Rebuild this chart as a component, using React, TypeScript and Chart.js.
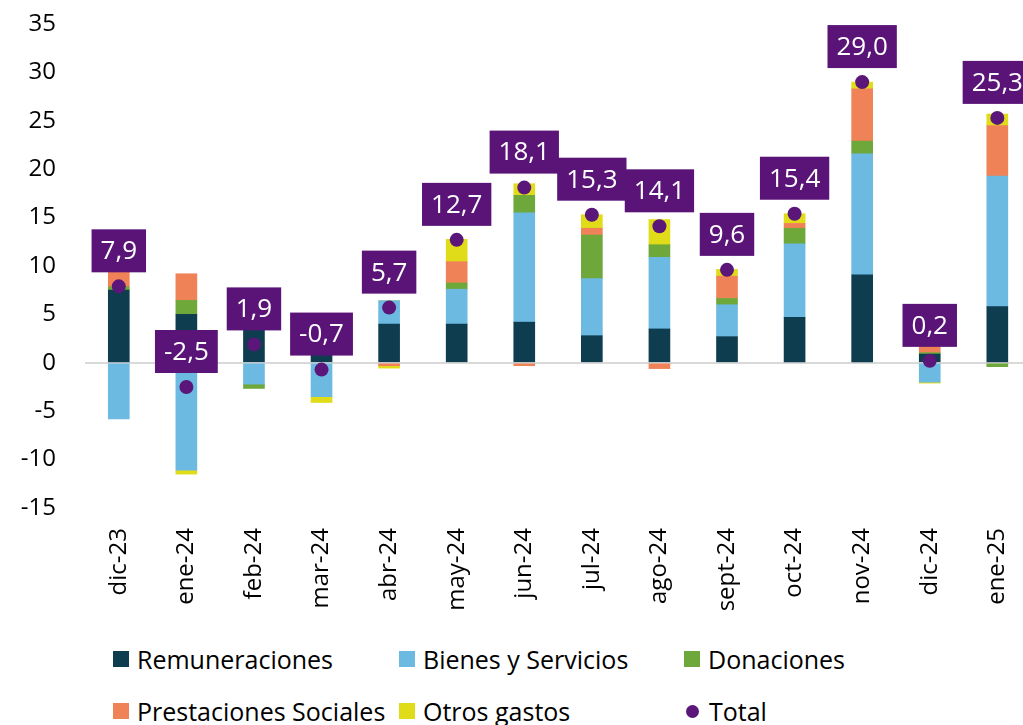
import React, { useEffect, useRef } from 'react';
import { Chart, registerables } from 'chart.js';

Chart.register(...registerables);

const categories = ['dic-23', 'ene-24', 'feb-24', 'mar-24', 'abr-24', 'may-24', 'jun-24', 'jul-24', 'ago-24', 'sept-24', 'oct-24', 'nov-24', 'dic-24', 'ene-25'];

const remuneraciones = [7.5, 5.0, 3.6, 1.0, 4.0, 4.0, 4.2, 2.8, 3.5, 2.7, 4.7, 9.1, 0.9, 5.8];
const bienesServicios = [-5.8, -11.1, -2.2, -3.5, 2.4, 3.6, 11.3, 5.9, 7.4, 3.3, 7.6, 12.5, -2.0, 13.5];
const donaciones = [0.35, 1.45, -0.45, 0, 0, 0.65, 1.8, 4.5, 1.3, 0.65, 1.6, 1.3, 0.15, -0.4];
const prestaciones = [1.8, 2.75, 0, 0, -0.3, 2.2, -0.3, 0.7, -0.6, 2.3, 0.5, 5.4, 0.7, 5.2];
const otrosGastos = [0, -0.4, 0, -0.6, -0.25, 2.3, 1.2, 1.4, 2.6, 0.7, 1.0, 0.7, -0.1, 1.2];
const total = [7.9, -2.5, 1.9, -0.7, 5.7, 12.7, 18.1, 15.3, 14.1, 9.6, 15.4, 29.0, 0.2, 25.3];

const yMin = -15;
const yMax = 35;
const yStep = 5;

const seriesNames = ['Remuneraciones', 'Bienes y Servicios', 'Donaciones', 'Prestaciones Sociales', 'Otros gastos', 'Total'];
const seriesColors = ['#0F3D50', '#6CB9E2', '#6FA83A', '#F08258', '#E0DC1A', '#5A1678'];
const labelBoxColor = '#5A1478';

const FONT = "'Open Sans', sans-serif";

const toXY = (arr: number[]) => arr.map((y, i) => ({ x: i, y }));

const totalLabels = {
  id: 'totalLabels',
  afterDatasetsDraw(chart: any) {
    const idx = chart.data.datasets.findIndex((d: any) => d.label === 'Total');
    const meta = chart.getDatasetMeta(idx);
    const ctx = chart.ctx;
    ctx.save();
    ctx.font = `26px ${FONT}`;
    ctx.textAlign = 'center';
    ctx.textBaseline = 'middle';
    meta.data.forEach((pt: any, i: number) => {
      const text = total[i].toFixed(1).replace('.', ',');
      const w = ctx.measureText(text).width + 18;
      const h = 43;
      const bx = pt.x - w / 2;
      const by = pt.y - 14 - h;
      ctx.fillStyle = labelBoxColor;
      ctx.fillRect(bx, by, w, h);
      ctx.fillStyle = '#FFFFFF';
      ctx.fillText(text, pt.x, by + h / 2 + 1);
    });
    ctx.restore();
  },
};

export default function App() {
  const canvasRef = useRef<HTMLCanvasElement | null>(null);

  useEffect(() => {
    const canvas = canvasRef.current;
    if (!canvas) return;
    const barSeries = [remuneraciones, bienesServicios, donaciones, prestaciones, otrosGastos];
    const datasets: any[] = barSeries.map((arr, i) => ({
      type: 'bar',
      label: seriesNames[i],
      data: toXY(arr),
      backgroundColor: seriesColors[i],
      borderWidth: 0,
      barThickness: 21,
      order: 1,
    }));
    datasets.push({
      type: 'line',
      label: 'Total',
      data: toXY(total),
      showLine: false,
      pointRadius: 7,
      pointHoverRadius: 7,
      pointBackgroundColor: seriesColors[5],
      pointBorderWidth: 0,
      borderColor: seriesColors[5],
      backgroundColor: seriesColors[5],
      stack: 'total',
      clip: false,
      order: 0,
    });

    const chart = new Chart(canvas, {
      type: 'bar',
      data: { datasets },
      plugins: [totalLabels],
      options: {
        animation: false,
        responsive: false,
        maintainAspectRatio: false,
        layout: { autoPadding: false, padding: { top: 24, left: 0, right: 0, bottom: 0 } },
        plugins: {
          legend: { display: false },
          tooltip: { enabled: false },
        },
        scales: {
          x: {
            type: 'linear',
            min: -0.5,
            max: 13.38,
            offset: false,
            stacked: true,
            grid: { display: false, drawTicks: false, offset: false },
            border: { display: false },
            afterBuildTicks: (scale: any) => {
              scale.ticks = categories.map((_, i) => ({ value: i }));
            },
            afterFit: (scale: any) => {
              scale.height = 112;
              scale.paddingLeft = 0;
              scale.paddingRight = 0;
            },
            ticks: {
              autoSkip: false,
              maxRotation: 90,
              minRotation: 90,
              padding: 20,
              color: '#000',
              font: { family: FONT, size: 24 },
              callback: (v: any) => categories[v] ?? '',
            },
          },
          y: {
            stacked: true,
            min: yMin,
            max: yMax,
            grid: {
              drawTicks: false,
              lineWidth: 2,
              color: (c: any) => (c.tick && c.tick.value === 0 ? '#D9D9D9' : 'rgba(0,0,0,0)'),
            },
            border: { display: false },
            afterFit: (scale: any) => {
              scale.width = 85;
              scale.paddingTop = 0;
              scale.paddingBottom = 0;
            },
            ticks: {
              stepSize: yStep,
              padding: 29,
              color: '#000',
              font: { family: FONT, size: 24 },
            },
          },
        },
      } as any,
    });
    return () => chart.destroy();
  }, []);

  const colLeft = [113, 399, 684];
  const rowCenter = [659, 711];

  return (
    <div style={{ position: 'absolute', left: 0, top: 0, width: 1023, height: 725, overflow: 'hidden', background: '#fff' }}>
      <canvas ref={canvasRef} width={1023} height={620} style={{ display: 'block', width: 1023, height: 620 }} />
      {seriesNames.map((name, i) => {
        const col = i % 3;
        const row = Math.floor(i / 3);
        const isDot = name === 'Total';
        return (
          <div
            key={name}
            style={{
              position: 'absolute',
              left: colLeft[col],
              top: rowCenter[row] - 20,
              height: 40,
              display: 'flex',
              alignItems: 'center',
              fontFamily: FONT,
              fontSize: 25,
              color: '#000',
              whiteSpace: 'nowrap',
            }}
          >
            <span
              style={{
                display: 'inline-block',
                width: isDot ? 13 : 16,
                height: isDot ? 13 : 16,
                borderRadius: isDot ? '50%' : 0,
                background: seriesColors[i],
                marginRight: isDot ? 10 : 8,
                marginLeft: isDot ? 2 : 0,
              }}
            />
            <span>{name}</span>
          </div>
        );
      })}
    </div>
  );
}
